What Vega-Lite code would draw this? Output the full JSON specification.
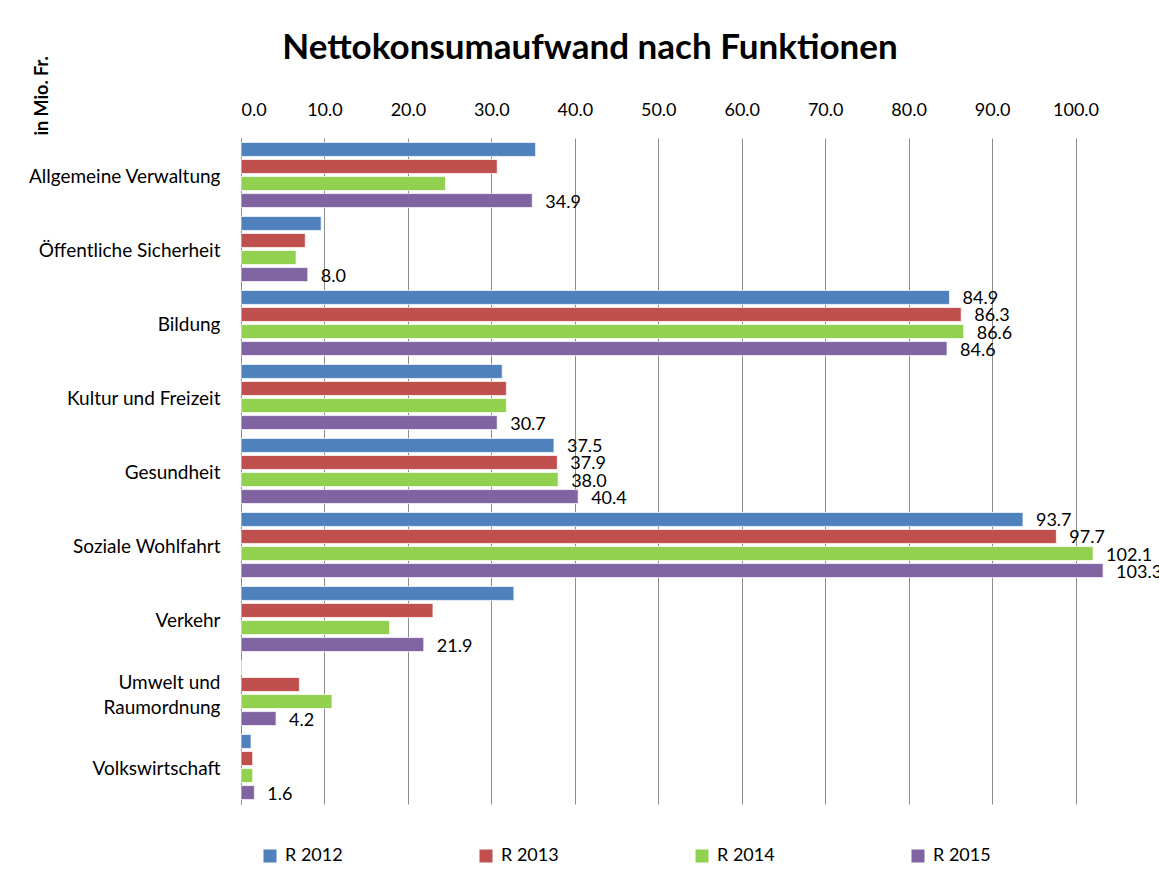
{
  "$schema": "https://vega.github.io/schema/vega-lite/v6.json",
  "autosize": {"type": "none"},
  "padding": {"left": 241, "top": 138, "right": 0, "bottom": 90},
  "width": 918,
  "height": 666,
  "background": "white",
  "title": {
    "text": "Nettokonsumaufwand nach Funktionen",
    "font": "Lato",
    "fontSize": 35,
    "fontWeight": "bold",
    "color": "black",
    "anchor": "middle",
    "frame": "group",
    "dx": -110,
    "dy": 14,
    "offset": 4
  },
  "config": {"view": {"stroke": null}},
  "data": {
    "values": [
      {"Funktion": "Allgemeine Verwaltung", "Jahr": "R 2012", "Wert": 35.3},
      {"Funktion": "Allgemeine Verwaltung", "Jahr": "R 2013", "Wert": 30.7},
      {"Funktion": "Allgemeine Verwaltung", "Jahr": "R 2014", "Wert": 24.5},
      {"Funktion": "Allgemeine Verwaltung", "Jahr": "R 2015", "Wert": 34.9},
      {"Funktion": "Öffentliche Sicherheit", "Jahr": "R 2012", "Wert": 9.6},
      {"Funktion": "Öffentliche Sicherheit", "Jahr": "R 2013", "Wert": 7.7},
      {"Funktion": "Öffentliche Sicherheit", "Jahr": "R 2014", "Wert": 6.6},
      {"Funktion": "Öffentliche Sicherheit", "Jahr": "R 2015", "Wert": 8.0},
      {"Funktion": "Bildung", "Jahr": "R 2012", "Wert": 84.9},
      {"Funktion": "Bildung", "Jahr": "R 2013", "Wert": 86.3},
      {"Funktion": "Bildung", "Jahr": "R 2014", "Wert": 86.6},
      {"Funktion": "Bildung", "Jahr": "R 2015", "Wert": 84.6},
      {"Funktion": "Kultur und Freizeit", "Jahr": "R 2012", "Wert": 31.3},
      {"Funktion": "Kultur und Freizeit", "Jahr": "R 2013", "Wert": 31.8},
      {"Funktion": "Kultur und Freizeit", "Jahr": "R 2014", "Wert": 31.8},
      {"Funktion": "Kultur und Freizeit", "Jahr": "R 2015", "Wert": 30.7},
      {"Funktion": "Gesundheit", "Jahr": "R 2012", "Wert": 37.5},
      {"Funktion": "Gesundheit", "Jahr": "R 2013", "Wert": 37.9},
      {"Funktion": "Gesundheit", "Jahr": "R 2014", "Wert": 38.0},
      {"Funktion": "Gesundheit", "Jahr": "R 2015", "Wert": 40.4},
      {"Funktion": "Soziale Wohlfahrt", "Jahr": "R 2012", "Wert": 93.7},
      {"Funktion": "Soziale Wohlfahrt", "Jahr": "R 2013", "Wert": 97.7},
      {"Funktion": "Soziale Wohlfahrt", "Jahr": "R 2014", "Wert": 102.1},
      {"Funktion": "Soziale Wohlfahrt", "Jahr": "R 2015", "Wert": 103.3},
      {"Funktion": "Verkehr", "Jahr": "R 2012", "Wert": 32.7},
      {"Funktion": "Verkehr", "Jahr": "R 2013", "Wert": 23.0},
      {"Funktion": "Verkehr", "Jahr": "R 2014", "Wert": 17.8},
      {"Funktion": "Verkehr", "Jahr": "R 2015", "Wert": 21.9},
      {"Funktion": "Umwelt und Raumordnung", "Jahr": "R 2012", "Wert": 0.1},
      {"Funktion": "Umwelt und Raumordnung", "Jahr": "R 2013", "Wert": 7.0},
      {"Funktion": "Umwelt und Raumordnung", "Jahr": "R 2014", "Wert": 10.9},
      {"Funktion": "Umwelt und Raumordnung", "Jahr": "R 2015", "Wert": 4.2},
      {"Funktion": "Volkswirtschaft", "Jahr": "R 2012", "Wert": 1.2},
      {"Funktion": "Volkswirtschaft", "Jahr": "R 2013", "Wert": 1.4},
      {"Funktion": "Volkswirtschaft", "Jahr": "R 2014", "Wert": 1.4},
      {"Funktion": "Volkswirtschaft", "Jahr": "R 2015", "Wert": 1.6}
    ]
  },
  "encoding": {
    "y": {
      "field": "Funktion",
      "type": "nominal",
      "sort": null,
      "scale": {"paddingInner": 0.12, "paddingOuter": 0.06},
      "axis": {
        "domain": true,
        "domainColor": "#8c8c8c",
        "domainWidth": 1,
        "ticks": false,
        "grid": false,
        "labelFont": "Lato",
        "labelFontSize": 19,
        "labelColor": "black",
        "labelPadding": 21,
        "labelLimit": 300,
        "labelOffset": {"condition": {"test": "datum.value == 'Umwelt und Raumordnung'", "value": -10}, "value": 2},
        "labelLineHeight": 25,
        "labelExpr": "datum.value == 'Umwelt und Raumordnung' ? ['Umwelt und', 'Raumordnung'] : datum.value",
        "title": "in Mio. Fr.",
        "titleFont": "Lato",
        "titleFontSize": 18,
        "titleFontWeight": "bold",
        "titleColor": "black",
        "titleAngle": 270,
        "titleAlign": "left",
        "titleBaseline": "middle",
        "titleX": -199,
        "titleY": -3
      }
    },
    "yOffset": {
      "field": "Jahr",
      "type": "nominal",
      "sort": null,
      "scale": {"paddingInner": 0.18, "paddingOuter": 0}
    },
    "x": {
      "field": "Wert",
      "type": "quantitative",
      "scale": {"domain": [0, 110], "nice": false},
      "axis": {
        "orient": "top",
        "values": [0, 10, 20, 30, 40, 50, 60, 70, 80, 90, 100],
        "format": ".1f",
        "domain": false,
        "ticks": false,
        "grid": true,
        "gridColor": "#8c8c8c",
        "gridWidth": 1,
        "labelFont": "Lato",
        "labelFontSize": 18,
        "labelColor": "black",
        "labelPadding": 19,
        "title": null
      }
    }
  },
  "layer": [
    {
      "mark": {"type": "bar", "stroke": "white", "strokeWidth": 1, "strokeOpacity": 0.7},
      "encoding": {
        "color": {
          "field": "Jahr",
          "type": "nominal",
          "scale": {
            "domain": ["R 2012", "R 2013", "R 2014", "R 2015"],
            "range": ["#4F81BD", "#C0504D", "#92D050", "#8064A2"]
          },
          "legend": {
            "orient": "none",
            "legendX": 20,
            "legendY": 709,
            "direction": "horizontal",
            "columns": 4,
            "columnPadding": 134,
            "gridAlign": "all",
            "padding": 0,
            "symbolType": "square",
            "symbolSize": 169,
            "symbolStrokeWidth": 0,
            "labelFont": "Lato",
            "labelFontSize": 18,
            "labelColor": "black",
            "labelOffset": 6,
            "title": null
          }
        }
      }
    },
    {
      "transform": [
        {"filter": "datum.Jahr == 'R 2015' || datum.Funktion == 'Bildung' || datum.Funktion == 'Gesundheit' || datum.Funktion == 'Soziale Wohlfahrt'"}
      ],
      "mark": {
        "type": "text",
        "align": "left",
        "baseline": "middle",
        "dx": 13,
        "dy": 2,
        "font": "Lato",
        "fontSize": 18,
        "color": "black"
      },
      "encoding": {
        "text": {"field": "Wert", "type": "quantitative", "format": ".1f"}
      }
    }
  ]
}
